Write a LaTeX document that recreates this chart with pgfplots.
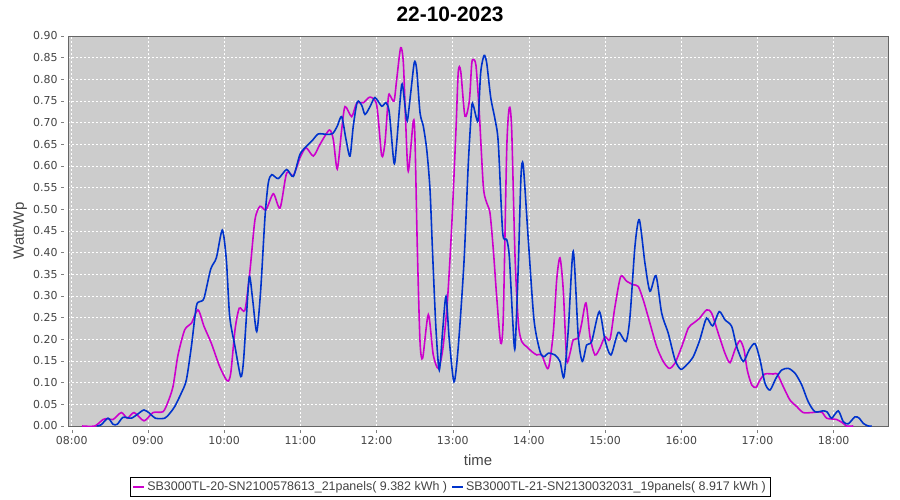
\documentclass[border=0pt]{standalone}
\usepackage{fontspec}
\setmainfont{Liberation Sans}
\newfontfamily\dejavu{DejaVu Sans}
\usepackage{pgfplots}
\usepackage{pgfplotstable}
\pgfplotsset{compat=1.18}
\definecolor{plotbg}{RGB}{204,204,204}
\definecolor{cmag}{RGB}{204,0,204}
\definecolor{cblue}{RGB}{0,51,204}
\definecolor{tickgray}{RGB}{68,68,68}
\pgfplotstableread{
h v
8.135 0.0
8.302 0.0
8.411 0.015
8.476 0.017
8.542 0.015
8.651 0.031
8.730 0.018
8.818 0.031
8.949 0.012
9.067 0.031
9.198 0.033
9.264 0.056
9.329 0.091
9.395 0.164
9.483 0.222
9.570 0.237
9.657 0.268
9.736 0.230
9.832 0.191
9.942 0.137
10.042 0.104
10.087 0.122
10.143 0.222
10.199 0.272
10.274 0.268
10.340 0.360
10.405 0.476
10.471 0.507
10.550 0.499
10.646 0.536
10.734 0.503
10.821 0.584
10.908 0.578
10.996 0.619
11.075 0.642
11.171 0.623
11.258 0.650
11.381 0.683
11.433 0.661
11.485 0.593
11.543 0.684
11.587 0.737
11.674 0.714
11.740 0.745
11.827 0.746
11.915 0.759
12.003 0.740
12.068 0.624
12.111 0.654
12.155 0.758
12.177 0.763
12.230 0.750
12.265 0.800
12.317 0.873
12.352 0.839
12.383 0.700
12.417 0.588
12.483 0.704
12.505 0.661
12.535 0.415
12.571 0.195
12.606 0.157
12.680 0.257
12.745 0.164
12.811 0.133
12.869 0.176
12.929 0.284
12.987 0.461
13.043 0.684
13.073 0.817
13.105 0.819
13.161 0.715
13.218 0.750
13.249 0.835
13.270 0.846
13.306 0.831
13.349 0.723
13.402 0.553
13.446 0.515
13.489 0.492
13.533 0.407
13.577 0.299
13.630 0.191
13.664 0.253
13.709 0.638
13.743 0.735
13.774 0.684
13.818 0.391
13.862 0.237
13.906 0.195
13.971 0.183
14.037 0.172
14.102 0.164
14.168 0.164
14.254 0.133
14.320 0.215
14.365 0.338
14.408 0.388
14.451 0.314
14.496 0.153
14.539 0.168
14.582 0.199
14.648 0.203
14.693 0.237
14.749 0.284
14.802 0.206
14.867 0.164
14.933 0.180
14.998 0.206
15.064 0.200
15.130 0.276
15.205 0.345
15.283 0.334
15.370 0.326
15.435 0.322
15.501 0.291
15.589 0.237
15.677 0.183
15.763 0.149
15.842 0.133
15.917 0.145
16.005 0.183
16.092 0.226
16.157 0.237
16.236 0.248
16.333 0.268
16.399 0.260
16.485 0.214
16.573 0.168
16.639 0.146
16.704 0.176
16.770 0.197
16.823 0.176
16.866 0.129
16.924 0.095
16.980 0.089
17.033 0.106
17.098 0.120
17.207 0.120
17.260 0.120
17.338 0.091
17.426 0.060
17.514 0.045
17.601 0.031
17.711 0.031
17.842 0.032
17.908 0.018
18.039 0.015
18.126 0.006
18.170 0.0
18.257 0.0
}\magtable
\pgfplotstableread{
h v
8.330 0.0
8.388 0.003
8.476 0.018
8.542 0.004
8.598 0.004
8.673 0.020
8.782 0.018
8.870 0.028
8.949 0.037
9.024 0.029
9.097 0.018
9.220 0.018
9.286 0.029
9.352 0.045
9.438 0.076
9.504 0.106
9.570 0.183
9.635 0.276
9.680 0.287
9.736 0.295
9.824 0.362
9.898 0.388
9.976 0.452
10.029 0.384
10.073 0.253
10.143 0.183
10.218 0.114
10.252 0.145
10.287 0.237
10.331 0.345
10.375 0.291
10.428 0.218
10.480 0.314
10.537 0.484
10.580 0.561
10.625 0.580
10.711 0.571
10.821 0.592
10.908 0.576
10.996 0.627
11.084 0.646
11.163 0.660
11.236 0.674
11.346 0.673
11.425 0.675
11.485 0.692
11.543 0.714
11.600 0.661
11.652 0.623
11.695 0.692
11.748 0.748
11.806 0.740
11.849 0.719
11.915 0.737
11.980 0.758
12.068 0.738
12.125 0.746
12.168 0.723
12.230 0.607
12.265 0.654
12.331 0.788
12.374 0.738
12.404 0.704
12.449 0.769
12.496 0.839
12.527 0.823
12.571 0.723
12.614 0.692
12.659 0.638
12.702 0.546
12.737 0.395
12.781 0.222
12.824 0.129
12.869 0.222
12.912 0.299
12.955 0.199
13.017 0.102
13.073 0.183
13.148 0.378
13.205 0.607
13.249 0.735
13.270 0.740
13.315 0.708
13.336 0.710
13.367 0.815
13.411 0.855
13.446 0.838
13.499 0.758
13.555 0.708
13.598 0.654
13.656 0.446
13.709 0.430
13.743 0.391
13.787 0.245
13.818 0.180
13.862 0.376
13.896 0.576
13.926 0.601
13.992 0.430
14.067 0.245
14.146 0.172
14.198 0.160
14.254 0.168
14.342 0.164
14.408 0.149
14.460 0.113
14.517 0.222
14.582 0.403
14.648 0.206
14.701 0.149
14.758 0.187
14.824 0.195
14.924 0.264
14.998 0.199
15.077 0.164
15.173 0.216
15.274 0.195
15.327 0.253
15.392 0.415
15.449 0.476
15.523 0.376
15.589 0.311
15.668 0.347
15.743 0.260
15.829 0.214
15.917 0.153
15.992 0.131
16.071 0.141
16.157 0.160
16.236 0.195
16.268 0.214
16.333 0.249
16.412 0.231
16.498 0.264
16.573 0.245
16.661 0.230
16.727 0.183
16.813 0.149
16.892 0.176
16.967 0.190
17.033 0.153
17.098 0.099
17.164 0.083
17.242 0.110
17.317 0.129
17.404 0.133
17.492 0.122
17.580 0.095
17.666 0.056
17.754 0.033
17.863 0.035
17.916 0.032
17.973 0.018
18.060 0.035
18.126 0.010
18.191 0.005
18.279 0.021
18.336 0.018
18.388 0.006
18.454 0.0
18.498 0.0
}\bluetable
\begin{document}
\begin{tikzpicture}
\useasboundingbox (-68bp,-74bp) rectangle (832bp,426bp);
\begin{axis}[
  at={(0,0)}, anchor=south west,
  width=820bp, height=390bp, scale only axis,
  xmin=7.951, xmax=18.713, ymin=0, ymax=0.9,
  axis background/.style={fill=plotbg},
  axis line style={draw=gray!80!black},
  grid=major,
  major grid style={draw=white, dash pattern=on 2pt off 2pt, line width=0.5pt},
  xtick={8,9,10,11,12,13,14,15,16,17,18},
  xticklabels={08:00,09:00,10:00,11:00,12:00,13:00,14:00,15:00,16:00,17:00,18:00},
  ytick={0,0.05,...,0.91},
  /pgf/number format/assume math mode=true,
  tick align=outside,
  xtick style={draw=gray, thin, yshift=-4bp},
  ytick style={draw=gray, thin, xshift=-4bp},
  major tick length=3bp,
  ticklabel style={font=\dejavu\fontsize{11}{13}\selectfont, text=tickgray},
  xticklabel style={yshift=-4bp},
  yticklabel style={xshift=-4bp, /pgf/number format/.cd, fixed, fixed zerofill, precision=2},
  xtick pos=bottom, ytick pos=left,
  xlabel={time},
  ylabel={Watt/Wp},
  label style={font=\fontsize{15}{17}\selectfont, text=tickgray},
  xlabel style={at={(axis description cs:0.5,-0.087)}, anchor=center},
  ylabel style={at={(axis description cs:-0.0585,0.5)}, anchor=center, rotate=0},
  title={\textbf{22-10-2023}},
  title style={at={(axis description cs:0.466,1.04)}, anchor=center, font=\fontsize{21}{23}\selectfont},
  legend columns=2,
  legend style={at={(axis description cs:0.466,-0.156)}, anchor=center, draw=black, fill=white,
    font=\fontsize{12.5}{14}\selectfont, text=tickgray, inner sep=2bp,
    /tikz/every even column/.append style={column sep=2bp}},
  legend cell align=left,
  legend image code/.code={\draw[#1, line width=2pt] (0bp,0bp) -- (11bp,0bp);},
]
\draw[gray, thin] ([xshift=-4bp]rel axis cs:0,0) -- ([xshift=-4bp]rel axis cs:0,1);
\draw[gray, thin] ([yshift=-4bp]rel axis cs:0,0) -- ([yshift=-4bp]rel axis cs:1,0);
\addplot[cmag, line width=1.6pt, smooth, tension=0.45] table[x=h, y=v] {\magtable};
\addlegendentry{SB3000TL-20-SN2100578613\_21panels( 9.382 kWh )}
\addplot[cblue, line width=1.6pt, smooth, tension=0.45] table[x=h, y=v] {\bluetable};
\addlegendentry{SB3000TL-21-SN2130032031\_19panels( 8.917 kWh )}
\end{axis}
\end{tikzpicture}
\end{document}
